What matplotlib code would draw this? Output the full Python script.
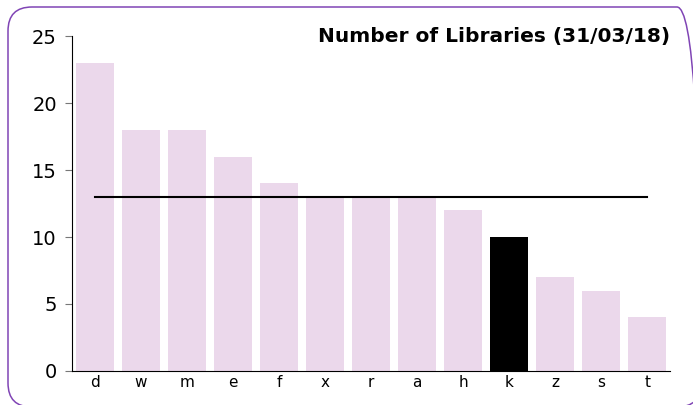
import matplotlib.pyplot as plt
from matplotlib.patches import FancyBboxPatch
from matplotlib.transforms import IdentityTransform

labels = ['d', 'w', 'm', 'e', 'f', 'x', 'r', 'a', 'h', 'k', 'z', 's', 't']
values = [23, 18, 18, 16, 14, 13, 13, 13, 12, 10, 7, 6, 4]
highlight = 'k'
ref_value = 13

W, H = 693, 405
fig = plt.figure(figsize=(W / 100, H / 100), dpi=100)
ax = fig.add_axes([0.104, 0.084, 0.863, 0.827])

colors = ['black' if l == highlight else '#ebd8eb' for l in labels]
x = range(len(labels))
ax.bar(x, values, width=0.83, color=colors)
ax.plot([0, len(labels) - 1], [ref_value, ref_value], color='black', lw=1.5)

ax.set_xlim(-0.5, len(labels) - 0.5)
ax.set_ylim(0, 25)
ax.set_yticks([0, 5, 10, 15, 20, 25])
ax.set_xticks(list(x))
ax.set_xticklabels(labels, fontsize=11)
ax.tick_params(axis='x', length=0, pad=3)
ax.tick_params(axis='y', labelsize=14, length=5, color='#777777', pad=6)
ax.spines['top'].set_visible(False)
ax.spines['right'].set_visible(False)

ax.text(1.0, 1.0, 'Number of Libraries (31/03/18)', transform=ax.transAxes,
        ha='right', va='center', fontsize=14.5, fontweight='bold')

# rounded frame in pixel coords, right and bottom edges just off the image
border = FancyBboxPatch((8, -2), 693, 400,
                        boxstyle='round,pad=0,rounding_size=24',
                        transform=IdentityTransform(), fill=False,
                        edgecolor='#8045b5', lw=1.1)
fig.patches.append(border)

fig.savefig('out.png', dpi=100)
